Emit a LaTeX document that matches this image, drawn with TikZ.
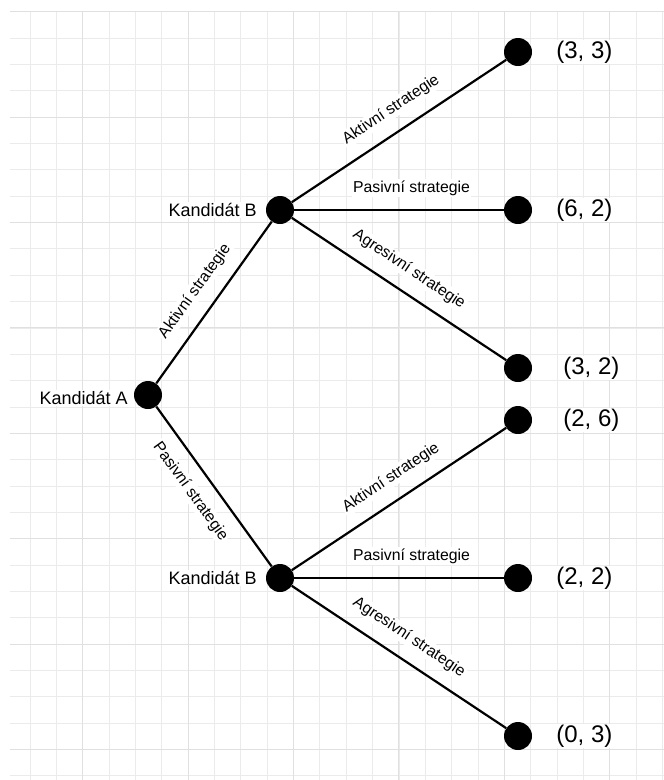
\documentclass[tikz,border=0pt]{standalone}
\usepackage{fontspec}
\setmainfont{Liberation Sans}
\usetikzlibrary{positioning}

\tikzset{
  dot/.style={circle, fill=black, inner sep=0pt, minimum size=28pt},
  player/.style={fill=white, inner sep=1pt, font=\fontsize{18}{20}\selectfont},
  payoff/.style={fill=white, inner sep=1pt, font=\fontsize{24}{26}\selectfont},
  edgelab/.style={sloped, above=12pt, fill=white, inner sep=1.5pt, font=\fontsize{15.8}{17}\selectfont},
  branch/.style={line width=2.2pt},
  minorline/.style={line width=0.8pt, black!8},
  majorline/.style={line width=1pt, black!12}
}

\begin{document}
\begin{tikzpicture}[x=1pt, y=-1pt]
  \useasboundingbox (0,0) rectangle (664,780);
  % Background grid
  \foreach \k in {-2,...,22}
    \draw[minorline] ({82.7+\k*26.35},11.7) -- ({82.7+\k*26.35},780);
  \foreach \k in {0,...,29}
    \draw[minorline] (10,{11.7+\k*26.35}) -- (664,{11.7+\k*26.35});
  \foreach \k in {0,...,5}
    \draw[majorline] ({82.7+\k*105.4},11.7) -- ({82.7+\k*105.4},780);
  \foreach \k in {0,...,7}
    \draw[majorline] (10,{11.7+\k*105.4}) -- (664,{11.7+\k*105.4});

  % Decision nodes
  \node[dot] (A) at (148,395) {};
  \node[dot] (B1) at (280,210) {};
  \node[dot] (B2) at (280,578) {};
  % Outcomes
  \node[dot] (o1) at (518,52) {};
  \node[dot] (o2) at (518,210) {};
  \node[dot] (o3) at (518,368) {};
  \node[dot] (o4) at (518,420) {};
  \node[dot] (o5) at (518,578) {};
  \node[dot] (o6) at (518,736) {};

  % Players
  \node[player, left=5pt of A, yshift=-3pt] (nA) {Kandidát A};
  \node[player, left=8pt of B1] (nB1) {Kandidát B};
  \node[player, left=8pt of B2] (nB2) {Kandidát B};

  % Payoffs
  \node[payoff, right=23pt of o1] (p1) {(3, 3)};
  \node[payoff, right=23pt of o2] (p2) {(6, 2)};
  \node[payoff, right=30pt of o3] (p3) {(3, 2)};
  \node[payoff, right=30pt of o4] (p4) {(2, 6)};
  \node[payoff, right=23pt of o5] (p5) {(2, 2)};
  \node[payoff, right=23pt of o6] (p6) {(0, 3)};

  % Draw the branches
  \draw[branch] (A) -- node[edgelab, pos=.49] {Aktivní strategie} (B1);
  \draw[branch] (A) -- node[edgelab, below=12pt, pos=.45] {Pasivní strategie} (B2);
  \draw[branch] (B1) -- node[edgelab, pos=.52] {Aktivní strategie} (o1);
  \draw[branch] (B1) -- node[edgelab, pos=.56] {Pasivní strategie} (o2);
  \draw[branch] (B1) -- node[edgelab, pos=.49] {Agresivní strategie} (o3);
  \draw[branch] (B2) -- node[edgelab, pos=.52] {Aktivní strategie} (o4);
  \draw[branch] (B2) -- node[edgelab, pos=.56] {Pasivní strategie} (o5);
  \draw[branch] (B2) -- node[edgelab, pos=.49] {Agresivní strategie} (o6);
\end{tikzpicture}
\end{document}
